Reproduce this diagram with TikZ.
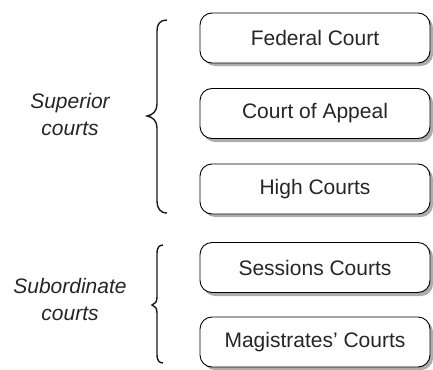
\documentclass[tikz,border=0pt]{standalone}
\usepackage{fontspec}
\setmainfont{Liberation Sans}
\begin{document}
\begin{tikzpicture}[x=1pt,y=-1pt,
  court/.style={draw=black,line width=0.9pt,rounded corners=12pt,fill=white,
    minimum width=230pt,minimum height=50pt,inner sep=0pt,text=black!85,
    font=\fontsize{21}{25}\selectfont},
  lbl/.style={anchor=base,inner sep=0pt,text=black!85,font=\fontsize{21}{25}\selectfont\itshape},
  bracepath/.style={draw=black!90,line width=1.4pt}]
\useasboundingbox (0,0) rectangle (433,369);
% shadows
\foreach \yt/\yb in {13/63,88/139,164/214,242/293,317/367}{
  \fill[black!32,rounded corners=12pt] (203,\yt+3) rectangle (433,\yb+3);
}
\node[court] (fed) at (315,38) {Federal Court};
\node[court] (app) at (315,113.5) {Court of Appeal};
\node[court] (high) at (315,189) {High Courts};
\node[court] (sess) at (315,267.5) {Sessions Courts};
\node[court] (mag) at (315,342) {Magistrates’ Courts};
% labels
\node[lbl] (sup1) at (70,108) {Superior};
\node[lbl] (sup2) at (70,135) {courts};
\node[lbl] (sub1) at (70,293) {Subordinate};
\node[lbl] (sub2) at (70,320) {courts};
% big brace
\draw[bracepath] (167,20) .. controls (160,20) and (157,24) .. (157,31)
  -- (157,104) .. controls (157,111) and (153,115) .. (147,116)
  .. controls (153,117) and (157,121) .. (157,128)
  -- (157,201) .. controls (157,208) and (160,213) .. (167,213);
% small brace
\draw[bracepath] (163,245) .. controls (159,245) and (157,248) .. (157,253)
  -- (157,297) .. controls (157,302) and (155,304) .. (152,305)
  .. controls (155,306) and (157,308) .. (157,313)
  -- (157,355) .. controls (157,360) and (159,363) .. (163,363);
\end{tikzpicture}
\end{document}
